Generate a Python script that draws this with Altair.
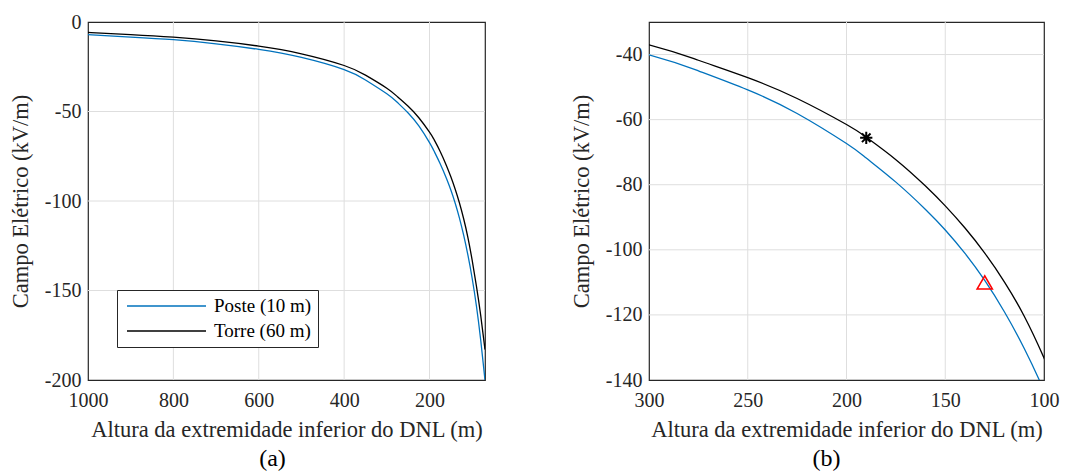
import altair as alt
import pandas as pd

# Data
heights = [1000, 900, 800, 700, 600, 500, 400, 350, 300, 275, 250, 225, 200,
           190, 175, 160, 150, 140, 130, 120, 110, 100, 90, 80, 70]
poste = [-7.1, -8.4, -9.9, -12.2, -15.3, -19.8, -26.6, -32.4, -40.1, -45.0, -50.85, -58.1, -67.35,
         -71.8, -79.2, -87.6, -93.9, -101.1, -109.4, -119.1, -130.3, -143.3, -158.8, -177.8, -200]
torre = [-5.8, -7.0, -8.5, -10.6, -13.5, -17.8, -24.3, -29.7, -37, -41.75, -47.1, -53.5, -61.5,
         -65.4, -72.3, -80.4, -86.5, -93.3, -101.0, -109.9, -120.4, -133.2, -147.7, -164, -183]
series = ["Poste (10 m)", "Torre (60 m)"]
colors = ["#0072BD", "#000000"]

star_h = [190]
star_e = [-65.6]
tri_h = [130]
tri_e = [-110]

xa_dom = [70, 1000]
ya_dom = [-200, 0]
xb_dom = [100, 300]
yb_dom = [-140, -30]
xa_ticks = [1000, 800, 600, 400, 200]
ya_ticks = [-200, -150, -100, -50, 0]
xb_ticks = [300, 250, 200, 150, 100]
yb_ticks = [-140, -120, -100, -80, -60, -40]

rows = []
for name, vals in zip(series, [poste, torre]):
    for h, e in zip(heights, vals):
        rows.append({"h": h, "E": e, "serie": name})
df = pd.DataFrame(rows)
star_df = pd.DataFrame({"h": star_h, "E": star_e})
tri_df = pd.DataFrame({"h": tri_h, "E": tri_e})

FONT = "Liberation Serif"
XTITLE = "Altura da extremidade inferior do DNL (m)"
YTITLE = "Campo Elétrico (kV/m)"
GRID = "#dedede"
LABEL_EXPR = "(datum.value < 0 ? '-' : '') + format(abs(datum.value), 'd')"


def inner(ticks, dom):
    return pd.DataFrame({"v": [t for t in ticks if dom[0] < t < dom[1]]})


def legend():
    return alt.Legend(
        title=None, orient="none", legendX=29, legendY=268,
        symbolType="stroke", symbolSize=6241, symbolStrokeWidth=1.5, symbolOffset=3,
        labelFont=FONT, labelFontSize=19, labelColor="#000000", labelOffset=7,
        padding=6, strokeColor="#262626", fillColor="white", cornerRadius=0,
        clipHeight=20, rowPadding=5,
    )


def panel(xdom, ydom, xticks, yticks, extra, caption, dx, width):
    xs = alt.Scale(domain=xdom, reverse=True, nice=False, zero=False)
    ys = alt.Scale(domain=ydom, nice=False, zero=False)
    xax = alt.Axis(values=xticks, title=XTITLE, labelExpr=LABEL_EXPR)
    yax = alt.Axis(values=yticks, title=YTITLE, labelExpr=LABEL_EXPR)
    vgrid = alt.Chart(inner(xticks, xdom)).mark_rule(color=GRID, strokeWidth=1).encode(
        x=alt.X("v:Q", scale=xs, axis=xax))
    hgrid = alt.Chart(inner(yticks, ydom)).mark_rule(color=GRID, strokeWidth=1).encode(
        y=alt.Y("v:Q", scale=ys, axis=yax))
    lines = alt.Chart(df).mark_line(strokeWidth=1.3, interpolate="natural", clip=True).encode(
        x=alt.X("h:Q", scale=xs, axis=xax),
        y=alt.Y("E:Q", scale=ys, axis=yax),
        color=alt.Color("serie:N", scale=alt.Scale(domain=series, range=colors), legend=legend()),
        order=alt.Order("h:Q", sort="descending"),
    )
    layers = [vgrid, hgrid, lines]
    for src, kw in extra:
        layers.append(alt.Chart(src).mark_point(filled=False, opacity=1, **kw).encode(
            x=alt.X("h:Q", scale=xs, axis=xax), y=alt.Y("E:Q", scale=ys, axis=yax)))
    return alt.layer(*layers).properties(
        width=width, height=358,
        title=alt.TitleParams(caption, orient="bottom", dx=dx, fontSize=24, font=FONT,
                              fontWeight="normal", color="#000000", offset=6),
    )


star_path = "M0,-1L0,1M-1,0L1,0M-0.7,-0.7L0.7,0.7M-0.7,0.7L0.7,-0.7"
panel_a = panel(xa_dom, ya_dom, xa_ticks, ya_ticks, [], "(a)", -14, 397)
panel_b = panel(xb_dom, yb_dom, xb_ticks, yb_ticks, [
    (star_df, dict(shape=star_path, size=150, stroke="#000000", strokeWidth=2)),
    (tri_df, dict(shape="triangle-up", size=230, stroke="#FF0000", strokeWidth=1.6)),
], "(b)", -20, 395)

chart = alt.hconcat(panel_a, panel_b, spacing=82).properties(
    padding={"left": 0, "top": 3, "right": 5, "bottom": 0}
).configure_view(
    stroke="#262626", strokeWidth=1.2
).configure_axis(
    labelFont=FONT, titleFont=FONT, labelFontSize=20, titleFontSize=22.5,
    labelColor="#262626", titleColor="#262626", titleFontWeight="normal",
    grid=False, domain=False, ticks=False, labelFlush=False,
).configure_axisX(labelPadding=10, titlePadding=8).configure_axisY(labelPadding=7, titlePadding=12)

chart.save("out.html", embed_options={"renderer": "svg", "actions": False})
